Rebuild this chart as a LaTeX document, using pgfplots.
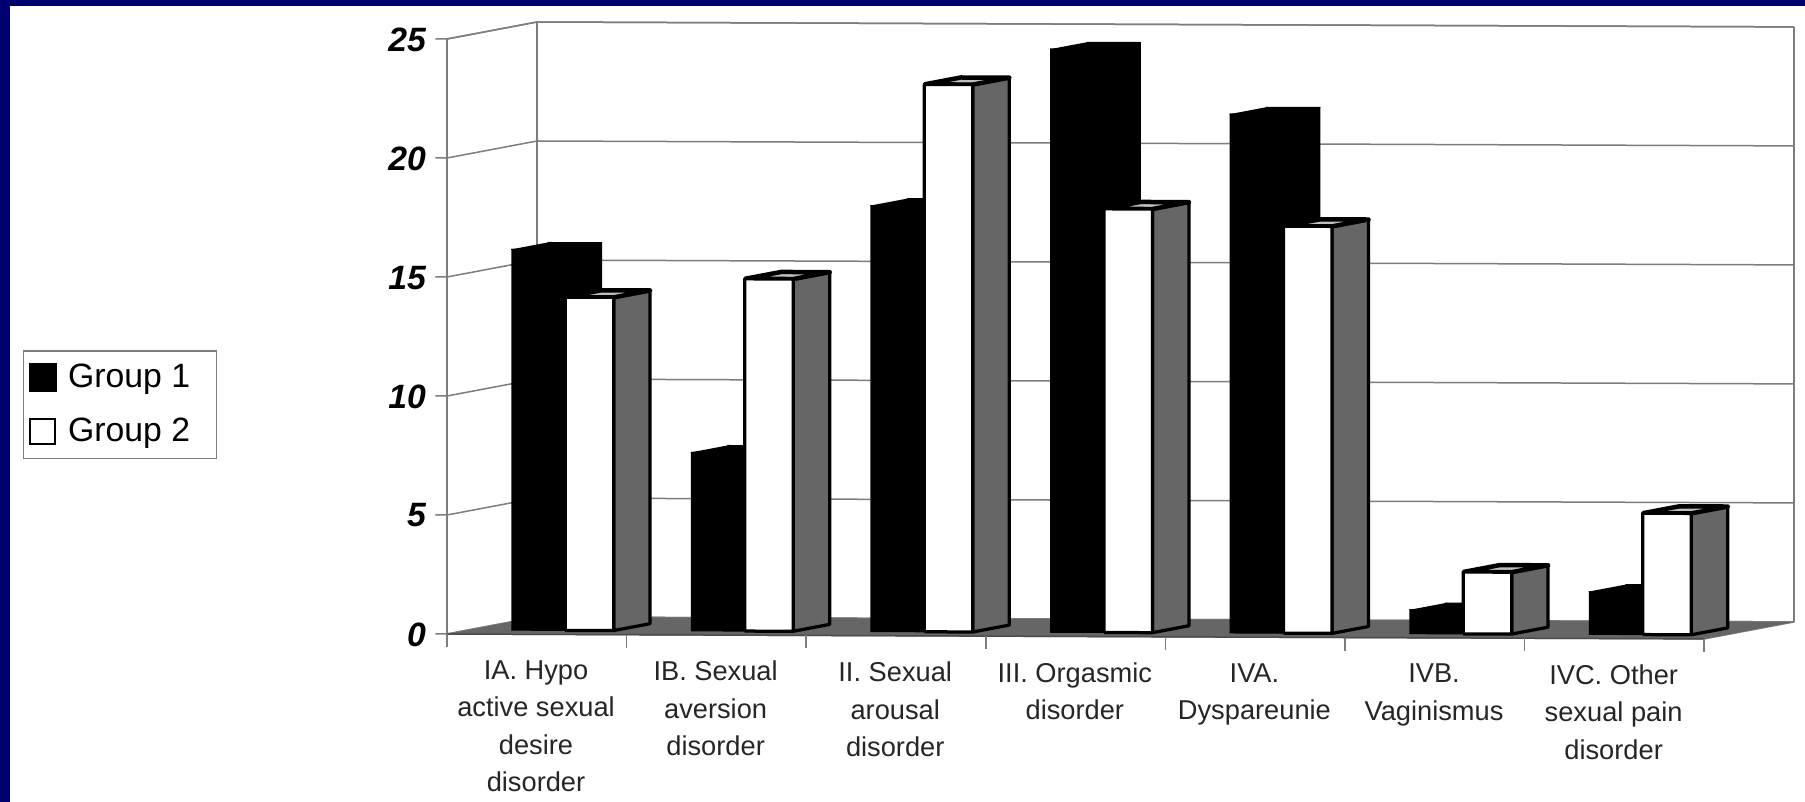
\documentclass[border=0pt]{standalone}
\usepackage{pgfplots}
\pgfplotsset{compat=1.18}
\usepackage{fontspec}
\setmainfont{Liberation Sans}
\definecolor{navyframe}{RGB}{0,0,112}
\definecolor{sidegray}{RGB}{102,102,102}
\definecolor{linegray}{RGB}{125,125,125}
\newcommand{\depthA}{0.235}
\newcommand{\depthB}{0.64}
% #1 left, #2 right, #3 value
\newcommand{\GroupOne}[3]{%
  \addplot3[forget plot,fill=black,draw=black,line width=0.4pt,line join=round] coordinates {(#2,\depthA,0) (#2,\depthB,0) (#2,\depthB,#3) (#2,\depthA,#3)};
  \addplot3[forget plot,fill=black,draw=black,line width=0.4pt,line join=round] coordinates {(#1,\depthA,#3) (#2,\depthA,#3) (#2,\depthB,#3) (#1,\depthB,#3)};
  \addplot3[forget plot,fill=black,draw=black,line width=0.4pt,line join=round] coordinates {(#1,\depthA,0) (#2,\depthA,0) (#2,\depthA,#3) (#1,\depthA,#3)};
}
\newcommand{\GroupTwo}[3]{%
  \addplot3[forget plot,fill=sidegray,draw=black,line width=1.3pt,line join=round] coordinates {(#2,\depthA,0) (#2,\depthB,0) (#2,\depthB,#3) (#2,\depthA,#3) (#2,\depthA,0)};
  \addplot3[forget plot,fill=lightgray,draw=black,line width=1.8pt,line join=round] coordinates {(#1,\depthA,#3) (#2,\depthA,#3) (#2,\depthB,#3) (#1,\depthB,#3) (#1,\depthA,#3)};
  \addplot3[forget plot,fill=white,draw=black,line width=1.3pt,line join=round] coordinates {(#1,\depthA,0) (#2,\depthA,0) (#2,\depthA,#3) (#1,\depthA,#3) (#1,\depthA,0)};
}
\newcommand{\CatTick}[1]{\addplot3[forget plot,draw=linegray,line width=0.6pt] coordinates {(#1,0,0) (#1,0,-0.55)};}
\newcommand{\ValTick}[1]{\addplot3[forget plot,draw=linegray,line width=0.6pt] coordinates {(-0.065,0,#1) (0,0,#1)};}
\begin{document}
\begin{tikzpicture}[x=1pt,y=1pt]
\path[use as bounding box] (0,0) rectangle (722,320.8);
\fill[white] (0,0) rectangle (722,320.8);
\fill[navyframe] (0,0) rectangle (4,320.8);
\fill[navyframe] (0,318.4) rectangle (722,320.8);
\begin{axis}[
  anchor=origin, at={(178.8pt,67.2pt)},
  x={(71.84pt,-0.28pt)}, y={(36pt,6.8pt)}, z={(0pt,9.52pt)},
  xmin=0, xmax=7, ymin=0, ymax=1, zmin=0, zmax=25,
  clip=false,
  ytick=\empty,
  xtick={0.5,1.5,2.5,3.5,4.5,5.5,6.5},
  xticklabels={{IA. Hypo\\active sexual\\desire\\disorder},{IB. Sexual\\aversion\\disorder},{II. Sexual\\arousal\\disorder},{III. Orgasmic\\disorder},{IVA.\\Dyspareunie},{IVB.\\Vaginismus},{IVC. Other\\sexual pain\\disorder}},
  x tick label style={align=center,font=\fontsize{10.9}{15}\selectfont,text=black!85,anchor=north,yshift=-6pt,xshift=4.6pt},
  ztick={0,5,10,15,20,25},
  z tick label style={font=\fontsize{13.5}{15}\bfseries\itshape\selectfont,/pgf/number format/assume math mode=true,yshift=1.4pt},
  zmajorgrids=true,
  xtick pos=left, ztick pos=left,
  major grid style={linegray,line width=0.6pt},
  axis line style={linegray,line width=0.6pt},
  major x tick style={draw=none},
  major z tick style={draw=none},
  tick align=outside,
  major tick length=5pt,
  legend cell align=left,
  legend style={at={(axis cs:-2.361,0,11.86)},anchor=north west,draw=linegray,line width=0.6pt,
    font=\fontsize{13.5}{16}\selectfont,row sep=6.5pt,inner xsep=2pt,inner ysep=3.4pt},
]
\addlegendimage{legend image code/.code={\fill[black] (1.7pt,-5.2pt) rectangle (12.5pt,5.6pt);}}
\addlegendentry{\hspace{2.4pt}Group 1\kern6.5pt}
\addlegendimage{legend image code/.code={\draw[black,fill=white,line width=0.8pt] (2.1pt,-4.8pt) rectangle (12.1pt,5.2pt);}}
\addlegendentry{\hspace{2.4pt}Group 2\kern6.5pt}
% floor
\addplot3[forget plot,fill=sidegray,draw=none] coordinates {(0,0,0) (7,0,0) (7,1,0) (0,1,0)};
% back right edge of the wall
\addplot3[forget plot,draw=linegray,line width=0.8pt] coordinates {(7,1,0) (7,1,25)};
% front floor edge
\addplot3[forget plot,draw=black!70,line width=0.6pt] coordinates {(0,0,0) (7,0,0)};
% ticks
\CatTick{0}\CatTick{1}\CatTick{2}\CatTick{3}\CatTick{4}\CatTick{5}\CatTick{6}\CatTick{7}
\ValTick{0}\ValTick{5}\ValTick{10}\ValTick{15}\ValTick{20}\ValTick{25}
% category 1 to 7
\GroupOne{0.24}{0.54}{16.0}
\GroupTwo{0.54}{0.81}{14.0}
\GroupOne{1.24}{1.54}{7.5}
\GroupTwo{1.54}{1.81}{14.8}
\GroupOne{2.24}{2.54}{17.9}
\GroupTwo{2.54}{2.81}{23.0}
\GroupOne{3.24}{3.54}{24.5}
\GroupTwo{3.54}{3.81}{17.8}
\GroupOne{4.24}{4.54}{21.8}
\GroupTwo{4.54}{4.81}{17.1}
\GroupOne{5.24}{5.54}{1.0}
\GroupTwo{5.54}{5.81}{2.6}
\GroupOne{6.24}{6.54}{1.8}
\GroupTwo{6.54}{6.81}{5.1}
\end{axis}
\end{tikzpicture}
\end{document}
